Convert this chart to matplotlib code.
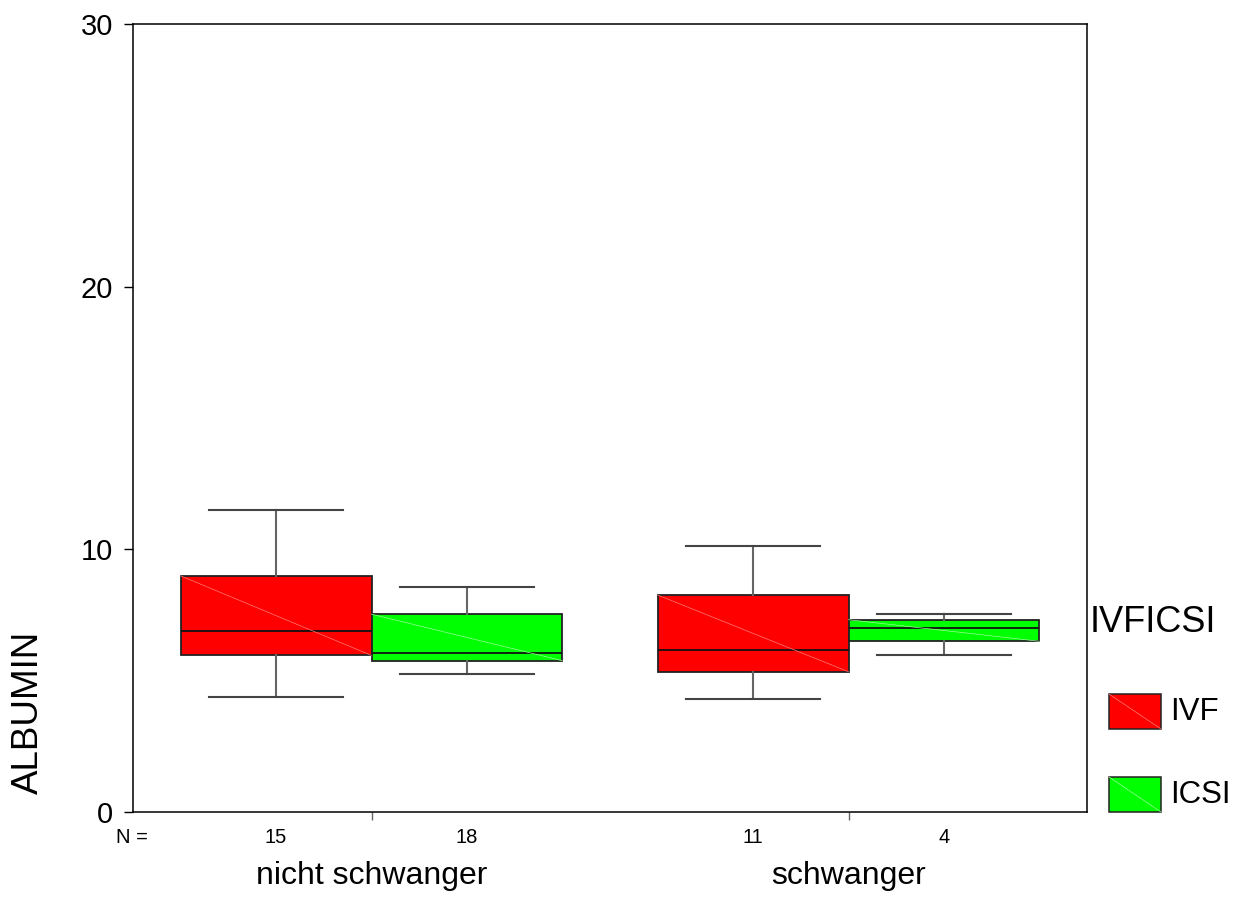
import matplotlib
matplotlib.use("Agg")
import matplotlib.pyplot as plt
from matplotlib.patches import Rectangle

plt.rcParams['font.family'] = ['Liberation Sans', 'DejaVu Sans']

groups = ['nicht schwanger', 'schwanger']
series = ['IVF', 'ICSI']
colors = ['#ff0000', '#00ff00']
diag_colors = ['#ff7a7a', '#9aff9a']

# box statistics, per series, per group
whislo = {'IVF': [4.37, 4.29], 'ICSI': [5.24, 5.97]}
q1 = {'IVF': [5.96, 5.34], 'ICSI': [5.76, 6.50]}
med = {'IVF': [6.90, 6.17], 'ICSI': [6.06, 7.00]}
q3 = {'IVF': [8.99, 8.26], 'ICSI': [7.53, 7.32]}
whishi = {'IVF': [11.49, 10.14], 'ICSI': [8.58, 7.53]}
counts = {'IVF': [15, 11], 'ICSI': [18, 4]}

yticks = [0, 10, 20, 30]

fig = plt.figure(figsize=(12.46, 8.97), dpi=100)
ax = fig.add_axes([133/1246, 85/897, 954/1246, 788/897])

bw = 0.4
for si, s in enumerate(series):
    stats = []
    pos = []
    for gi in range(len(groups)):
        stats.append(dict(whislo=whislo[s][gi], q1=q1[s][gi], med=med[s][gi],
                          q3=q3[s][gi], whishi=whishi[s][gi], fliers=[]))
        pos.append(gi + 1 + (si - 0.5) * bw)
    ax.bxp(stats, positions=pos, widths=bw, capwidths=0.28, patch_artist=True,
           showfliers=False,
           boxprops=dict(facecolor=colors[si], edgecolor='#222222', linewidth=1.3),
           medianprops=dict(color='#111111', linewidth=1.3),
           whiskerprops=dict(color='#666666', linewidth=1.5),
           capprops=dict(color='#444444', linewidth=1.5))
    for gi, p in enumerate(pos):
        ax.plot([p - bw/2, p + bw/2], [q3[s][gi], q1[s][gi]], color=diag_colors[si],
                linewidth=0.5, zorder=2.5)
        ax.annotate(str(counts[s][gi]), xy=(p, 0), xycoords=('data', 'axes fraction'),
                    xytext=(0, -22.3), textcoords='offset points', ha='center',
                    va='baseline', fontsize=14.5)

ax.annotate('N =', xy=(0.5, 0), xycoords=('data', 'axes fraction'),
            xytext=(-1, -22.3), textcoords='offset points', ha='center',
            va='baseline', fontsize=14.5)
for gi, g in enumerate(groups):
    ax.annotate(g, xy=(gi + 1, 0), xycoords=('data', 'axes fraction'),
                xytext=(0, -51.8), textcoords='offset points', ha='center',
                va='baseline', fontsize=23)

ax.set_xlim(0.5, 2.5)
ax.set_ylim(0, 30)
ax.set_yticks(yticks)
ax.set_yticklabels([str(t) for t in yticks], fontsize=21)
ax.set_xticks([1, 2])
ax.set_xticklabels(['', ''])
ax.tick_params(axis='y', direction='out', length=6.5, width=1, pad=8)
ax.tick_params(axis='x', direction='out', length=6, width=1, color='#666666')
for sp in ax.spines.values():
    sp.set_linewidth(1.1)

fig.text(28/1246, (897 - 712)/897, 'ALBUMIN', rotation=90, ha='center', va='center',
         fontsize=26.5)

# legend drawn by hand to match the layout
fig.text(1090/1246, (897 - 622)/897, 'IVFICSI', ha='left', va='center', fontsize=26)
patch_top = [694, 777]
for si, s in enumerate(series):
    y0 = (897 - patch_top[si] - 35)/897
    fig.add_artist(Rectangle((1109/1246, y0), 52/1246, 35/897, facecolor=colors[si],
                             edgecolor='#222222', linewidth=1.1, transform=fig.transFigure))
    fig.add_artist(plt.Line2D([1109/1246, 1161/1246], [y0 + 35/897, y0],
                              color=diag_colors[si], linewidth=0.5, transform=fig.transFigure))
    fig.text(1170/1246, y0 + 17.5/897, s, ha='left', va='center', fontsize=22.5)

fig.savefig('out.png', dpi=100)
